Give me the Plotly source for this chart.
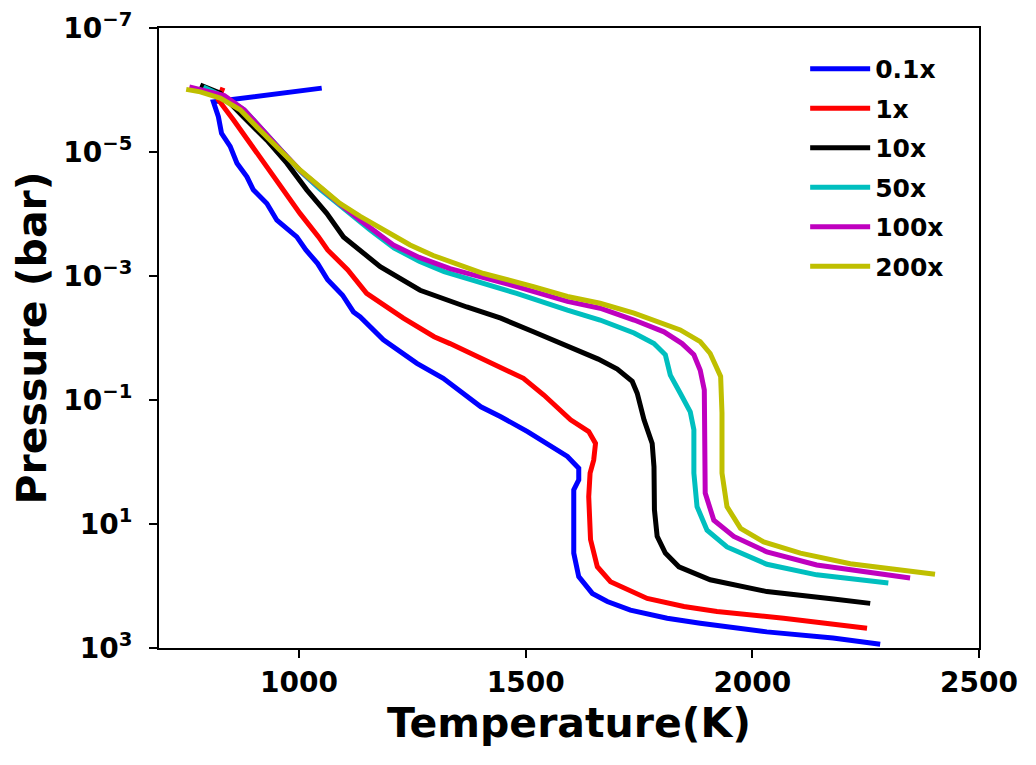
import plotly.graph_objects as go

# ---------------- data ----------------
labels = ["0.1x", "1x", "10x", "50x", "100x", "200x"]
colors = ["#0000ff", "#ff0000", "#000000", "#00bfbf", "#bf00bf", "#bfbf00"]

T_01 = [1050, 855, 811, 822, 829, 848, 863, 885, 899, 929, 951, 995, 1015, 1041, 1063, 1096, 1120, 1135,
        1186, 1260, 1318, 1401, 1445, 1504, 1555, 1592, 1617, 1617, 1606, 1605, 1606, 1617, 1647, 1680,
        1731, 1812, 1885, 2032, 2178, 2282]
logP_01 = [-6.03, -5.85, -5.81, -5.57, -5.30, -5.09, -4.82, -4.60, -4.39, -4.17, -3.90, -3.63, -3.42, -3.20,
           -2.94, -2.69, -2.42, -2.34, -1.97, -1.59, -1.35, -0.89, -0.73, -0.49, -0.25, -0.09, 0.10, 0.29,
           0.45, 0.82, 1.47, 1.85, 2.12, 2.25, 2.39, 2.52, 2.60, 2.74, 2.84, 2.94]

T_1 = [832, 822, 855, 892, 929, 966, 1002, 1043, 1063, 1107, 1149, 1230, 1298, 1333, 1394, 1445, 1495,
       1540, 1599, 1639, 1654, 1650, 1642, 1639, 1643, 1658, 1687, 1768, 1849, 1922, 2069, 2253]
logP_1 = [-6.04, -5.84, -5.52, -5.14, -4.76, -4.39, -4.01, -3.63, -3.42, -3.10, -2.72, -2.32, -2.02, -1.91,
          -1.70, -1.53, -1.35, -1.08, -0.68, -0.49, -0.30, -0.03, 0.18, 0.56, 1.25, 1.69, 1.93, 2.20, 2.33,
          2.41, 2.52, 2.68]

T_10 = [782, 826, 877, 929, 973, 1017, 1061, 1098, 1179, 1267, 1370, 1445, 1517, 1592, 1660, 1702, 1735,
        1746, 1761, 1779, 1783, 1784, 1790, 1808, 1838, 1907, 2032, 2179, 2260]
logP_10 = [-6.08, -5.95, -5.57, -5.19, -4.82, -4.39, -4.01, -3.63, -3.15, -2.77, -2.50, -2.32, -2.10, -1.86,
           -1.66, -1.50, -1.30, -1.11, -0.68, -0.30, 0.08, 0.77, 1.20, 1.47, 1.69, 1.90, 2.09, 2.21, 2.28]

T_50 = [789, 835, 879, 916, 960, 1004, 1046, 1090, 1113, 1157, 1210, 1265, 1320, 1430, 1480, 1592, 1664,
        1739, 1783, 1808, 1819, 1841, 1863, 1871, 1871, 1878, 1900, 1944, 2032, 2142, 2300]
logP_50 = [-6.05, -5.89, -5.68, -5.38, -5.03, -4.68, -4.40, -4.14, -3.98, -3.74, -3.45, -3.24, -3.07, -2.83,
           -2.72, -2.45, -2.29, -2.08, -1.91, -1.73, -1.40, -1.11, -0.81, -0.52, 0.18, 0.72, 1.10, 1.37,
           1.65, 1.82, 1.95]

T_100 = [758, 835, 879, 916, 960, 1004, 1046, 1090, 1135, 1208, 1265, 1333, 1480, 1592, 1664, 1739, 1805,
         1845, 1871, 1885, 1894, 1894, 1896, 1915, 1959, 2032, 2142, 2348]
logP_100 = [-6.05, -5.91, -5.68, -5.37, -5.03, -4.69, -4.42, -4.16, -3.90, -3.50, -3.30, -3.12, -2.83,
            -2.59, -2.48, -2.29, -2.10, -1.91, -1.73, -1.48, -1.16, 0.02, 0.50, 0.94, 1.20, 1.45, 1.66, 1.87]

T_200 = [751, 782, 826, 870, 914, 958, 1002, 1046, 1090, 1135, 1193, 1245, 1296, 1407, 1517, 1592, 1664,
         1739, 1841, 1885, 1907, 1930, 1933, 1933, 1944, 1974, 2025, 2106, 2216, 2403]
logP_200 = [-6.01, -5.97, -5.87, -5.68, -5.35, -5.03, -4.71, -4.44, -4.17, -3.96, -3.72, -3.50, -3.33,
            -3.04, -2.83, -2.67, -2.56, -2.40, -2.13, -1.94, -1.75, -1.38, -0.79, 0.18, 0.72, 1.07, 1.29,
            1.47, 1.64, 1.81]

x_ticks = [1000, 1500, 2000, 2500]
y_tick_exps = [-7, -5, -3, -1, 1, 3]
x_title = "Temperature(K)"
y_title = "Pressure (bar)"

# ---------------- figure ----------------
series_T = [T_01, T_1, T_10, T_50, T_100, T_200]
series_logP = [logP_01, logP_1, logP_10, logP_50, logP_100, logP_200]

FONT = "DejaVu Sans"
fig = go.Figure()
for lab, col, T, lp in zip(labels, colors, series_T, series_logP):
    fig.add_trace(go.Scatter(
        x=T, y=[10 ** v for v in lp], mode="lines", name=lab, legendgroup=lab,
        line=dict(color=col, width=5),
    ))

fig.update_layout(
    width=1020, height=749,
    margin=dict(l=151, r=49, t=20, b=109),
    paper_bgcolor="white", plot_bgcolor="white",
    font=dict(family=FONT, weight="bold", color="black", size=28),
    showlegend=True,
    legend=dict(
        x=0.788, y=0.971, xanchor="left", yanchor="top", itemwidth=60,
        font=dict(family=FONT, weight="bold", size=25, color="black"),
        bgcolor="rgba(0,0,0,0)", borderwidth=0, tracegroupgap=4,
    ),
)
fig.update_xaxes(
    range=[691, 2500], showgrid=False, zeroline=False, automargin=False,
    showline=True, linecolor="black", linewidth=2, mirror=True,
    ticks="outside", ticklen=8, tickwidth=2, tickcolor="black",
    tickvals=x_ticks, ticktext=[str(v) for v in x_ticks],
    tickfont=dict(family=FONT, weight="bold", size=28),
    title=dict(text=x_title, font=dict(family=FONT, weight="bold", size=41), standoff=10),
)
fig.update_yaxes(
    type="log", range=[3, -7], showgrid=False, zeroline=False, automargin=False,
    showline=True, linecolor="black", linewidth=2, mirror=True,
    ticks="outside", ticklen=8, tickwidth=2, tickcolor="black",
    tickvals=[10.0 ** e for e in y_tick_exps],
    ticktext=["10<sup>%s</sup>" % (str(e).replace("-", "\u2212")) for e in y_tick_exps],
    tickfont=dict(family=FONT, weight="bold", size=28),
    ticklabelstandoff=11,
    title=dict(text=y_title, font=dict(family=FONT, weight="bold", size=41), standoff=14),
)

fig.write_html("out.html")
